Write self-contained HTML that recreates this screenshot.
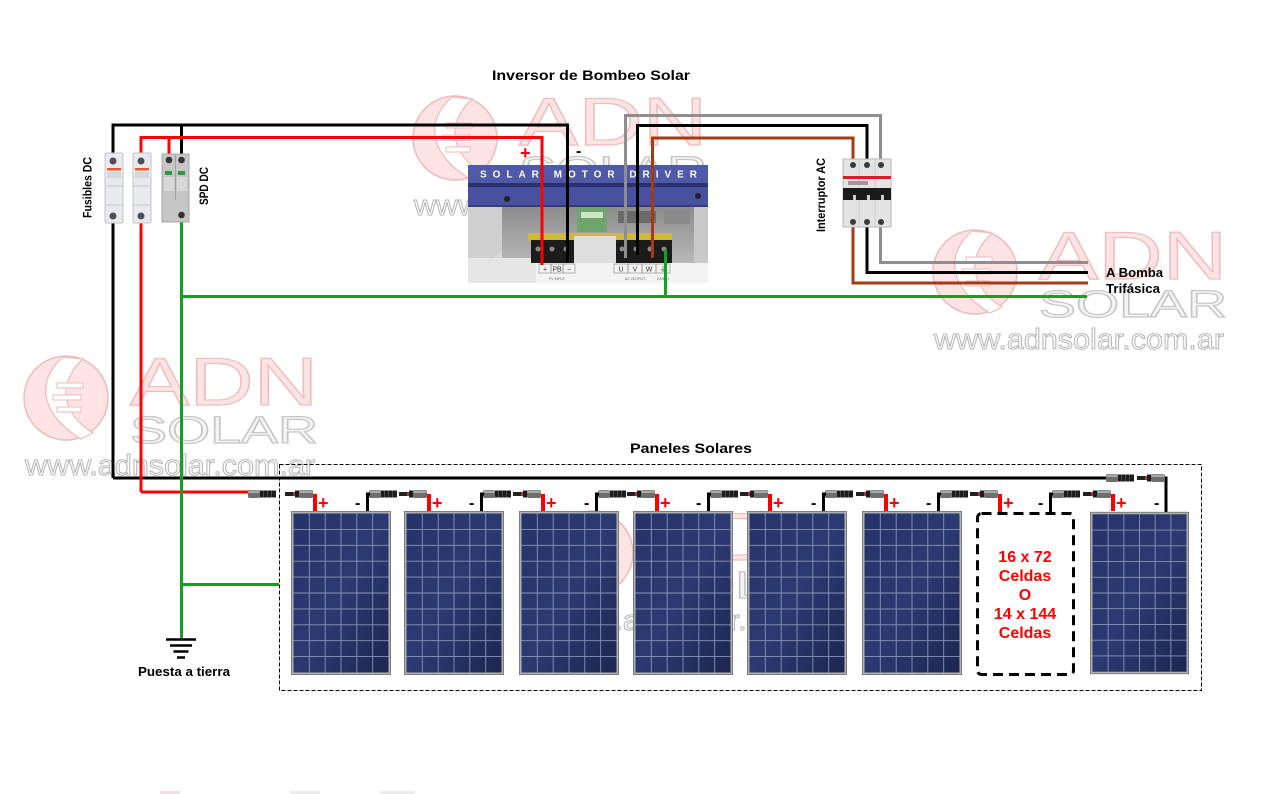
<!DOCTYPE html>
<html><head><meta charset="utf-8">
<style>
html,body{margin:0;padding:0;background:#fff;width:1285px;height:794px;overflow:hidden;}
svg{display:block;}
text{font-family:"Liberation Sans",Arial,sans-serif;}
</style></head>
<body>
<svg width="1285" height="794" viewBox="0 0 1285 794" xmlns="http://www.w3.org/2000/svg">
<defs>
  <linearGradient id="pvg" x1="0" y1="0" x2="1" y2="1">
    <stop offset="0" stop-color="#26336a"/>
    <stop offset="0.5" stop-color="#2b3a72"/>
    <stop offset="1" stop-color="#1d2650"/>
  </linearGradient>
  <linearGradient id="invg" x1="0" y1="0" x2="0" y2="1">
    <stop offset="0" stop-color="#8c8c8c"/>
    <stop offset="1" stop-color="#b8b8b8"/>
  </linearGradient>
  <symbol id="pv" viewBox="0 0 100 164">
    <rect x="0" y="0" width="100" height="164" fill="#7c7c7c"/>
    <rect x="1" y="1" width="98" height="162" fill="#b0b0b0"/>
    <rect x="2.5" y="2.5" width="95" height="159" fill="url(#pvg)"/>
    <g stroke="#9aa4c8" stroke-width="0.9" opacity="0.85">
      <line x1="18.3" y1="2.5" x2="18.3" y2="161.5"/>
      <line x1="34.2" y1="2.5" x2="34.2" y2="161.5"/>
      <line x1="50" y1="2.5" x2="50" y2="161.5"/>
      <line x1="65.8" y1="2.5" x2="65.8" y2="161.5"/>
      <line x1="81.7" y1="2.5" x2="81.7" y2="161.5"/>
      <line x1="2.5" y1="18.4" x2="97.5" y2="18.4"/>
      <line x1="2.5" y1="34.3" x2="97.5" y2="34.3"/>
      <line x1="2.5" y1="50.2" x2="97.5" y2="50.2"/>
      <line x1="2.5" y1="66.1" x2="97.5" y2="66.1"/>
      <line x1="2.5" y1="82" x2="97.5" y2="82"/>
      <line x1="2.5" y1="97.9" x2="97.5" y2="97.9"/>
      <line x1="2.5" y1="113.8" x2="97.5" y2="113.8"/>
      <line x1="2.5" y1="129.7" x2="97.5" y2="129.7"/>
      <line x1="2.5" y1="145.6" x2="97.5" y2="145.6"/>
    </g>
  </symbol>
  <g id="cf">
    <rect x="0" y="-4" width="12" height="8" rx="1.5" fill="#6e6e6e"/>
    <rect x="0.5" y="-3.5" width="11" height="2.5" fill="#a9a9a9"/>
    <rect x="12" y="-3.5" width="16" height="7" fill="#1c1c1c"/>
    <rect x="15" y="-3.5" width="1" height="7" fill="#4a4a4a"/>
    <rect x="19" y="-3.5" width="1" height="7" fill="#4a4a4a"/>
    <rect x="23" y="-3.5" width="1" height="7" fill="#4a4a4a"/>
  </g>
  <g id="cm">
    <rect x="0" y="-2" width="10" height="4" fill="#222"/>
    <rect x="8" y="-2" width="2" height="4" fill="#b33"/>
    <rect x="10" y="-3.5" width="4" height="7" fill="#1c1c1c"/>
    <rect x="14" y="-4" width="14" height="8" rx="1.5" fill="#6e6e6e"/>
    <rect x="14.5" y="-3.5" width="13" height="2.5" fill="#a9a9a9"/>
  </g>
  <symbol id="wm" viewBox="0 0 300 126">
    <circle cx="43" cy="45" r="42" fill="#fde3e3" stroke="#efbaba" stroke-width="1.5"/>
    <path d="M40 4 C 12 28, 18 62, 58 86 L 70 80 C 38 60, 34 30, 60 6 Z" fill="#fff" stroke="#efbaba" stroke-width="1.2"/>
    <rect x="34" y="30" width="26" height="5" fill="#fff" stroke="#efbaba" stroke-width="1"/>
    <rect x="30" y="42" width="28" height="5" fill="#fff" stroke="#efbaba" stroke-width="1"/>
    <rect x="34" y="54" width="24" height="5" fill="#fff" stroke="#efbaba" stroke-width="1"/>
    <text x="107" y="52" font-size="68" textLength="188" lengthAdjust="spacingAndGlyphs" fill="#fde4e4" stroke="#f0bcbc" stroke-width="1.2">ADN</text>
    <text x="107" y="90" font-size="38" textLength="188" lengthAdjust="spacingAndGlyphs" fill="#f4f4f4" stroke="#c6c6c6" stroke-width="1.2">SOLAR</text>
    <text x="2" y="122" font-size="29" textLength="290" lengthAdjust="spacingAndGlyphs" fill="#fff" stroke="#b6b6b6" stroke-width="1">www.adnsolar.com.ar</text>
  </symbol>
</defs>

<rect x="0" y="0" width="1285" height="794" fill="#fff"/>

<!-- watermarks -->
<use href="#wm" x="412" y="93" width="300" height="126"/>
<use href="#wm" x="932" y="227" width="300" height="126"/>
<use href="#wm" x="23" y="353" width="300" height="126"/>
<use href="#wm" x="548" y="508" width="300" height="126"/>
<rect x="160" y="791" width="20" height="3" fill="#f6dede"/>
<rect x="290" y="791" width="30" height="3" fill="#ececec"/>
<rect x="380" y="791" width="35" height="3" fill="#ececec"/>

<!-- outer dashed box -->
<rect x="279.5" y="464.5" width="922" height="226" fill="none" stroke="#000" stroke-width="1" stroke-dasharray="4 2"/>

<!-- panels -->
<use href="#pv" x="291" y="511" width="100" height="164"/>
<use href="#pv" x="404" y="511" width="100" height="164"/>
<use href="#pv" x="519" y="511" width="100" height="164"/>
<use href="#pv" x="633" y="511" width="100" height="164"/>
<use href="#pv" x="747" y="511" width="100" height="164"/>
<use href="#pv" x="862" y="511" width="100" height="164"/>
<use href="#pv" x="1090" y="511" width="99" height="164"/>

<!-- dashed placeholder panel -->
<rect x="977.5" y="513.5" width="96" height="161" rx="4" fill="#fff" stroke="#000" stroke-width="3" stroke-dasharray="10 6"/>
<g fill="#ff0000" font-weight="bold" font-size="16" text-anchor="middle">
  <text x="1025" y="562">16 x 72</text>
  <text x="1025" y="581">Celdas</text>
  <text x="1025" y="600">O</text>
  <text x="1025" y="619">14 x 144</text>
  <text x="1025" y="638">Celdas</text>
</g>

<!-- INVERTER image -->
<g>
  <rect x="468" y="165" width="240" height="118" fill="#c4c4c4"/>
  <rect x="468" y="207" width="34" height="76" fill="#d9d9d9"/>
  <polygon points="468,207 502,207 502,250 468,283" fill="#cfcfcf"/>
  <rect x="502" y="207" width="192" height="56" fill="url(#invg)"/>
  <rect x="694" y="207" width="14" height="76" fill="#c9c9c9"/>
  <rect x="468" y="258" width="70" height="25" fill="#e6e6e6"/>
  <rect x="468" y="165" width="240" height="18" fill="#4e59a8"/>
  <rect x="468" y="183" width="240" height="4" fill="#2a3170"/>
  <rect x="468" y="187" width="240" height="20" fill="#4851a0"/>
  <rect x="468" y="205" width="240" height="2" fill="#343b80"/>
  <text x="480" y="177.5" fill="#fff" font-size="10" font-weight="bold" textLength="220" lengthAdjust="spacing" letter-spacing="3">SOLAR MOTOR DRIVER</text>
  <circle cx="507" cy="199" r="3" fill="#222"/>
  <circle cx="698" cy="196" r="3" fill="#222"/>
  <rect x="577" y="208" width="30" height="24" fill="#6fa46b"/>
  <rect x="581" y="212" width="22" height="6" fill="#cfe3c8"/>
  <rect x="618" y="211" width="38" height="12" fill="#6a6a6a"/>
  <rect x="664" y="210" width="26" height="14" fill="#8a8a8a"/>
  <rect x="528" y="233" width="144" height="8" fill="#cdb83a"/>
  <rect x="531" y="240" width="44" height="23" fill="#1c1c1c"/>
  <rect x="574" y="236" width="42" height="27" fill="#dedede"/>
  <rect x="616" y="240" width="56" height="23" fill="#1c1c1c"/>
  <g fill="#8a8a8a">
    <circle cx="538" cy="249" r="2.5"/><circle cx="552" cy="249" r="2.5"/><circle cx="566" cy="249" r="2.5"/>
    <circle cx="622" cy="249" r="2.5"/><circle cx="636" cy="249" r="2.5"/><circle cx="650" cy="249" r="2.5"/><circle cx="664" cy="249" r="2.5"/>
  </g>
  <rect x="536" y="263" width="172" height="20" fill="#f3f3f3"/>
  <g stroke="#888" stroke-width="0.6" fill="none">
    <rect x="539" y="264" width="12" height="9"/><rect x="551" y="264" width="12" height="9"/><rect x="563" y="264" width="12" height="9"/>
    <rect x="614" y="264" width="14" height="9"/><rect x="628" y="264" width="14" height="9"/><rect x="642" y="264" width="14" height="9"/><rect x="656" y="264" width="14" height="9"/>
  </g>
  <g font-size="7" fill="#333" text-anchor="middle">
    <text x="545" y="271.5">+</text><text x="557" y="271.5">PB</text><text x="569" y="271.5">−</text>
    <text x="621" y="271.5">U</text><text x="635" y="271.5">V</text><text x="649" y="271.5">W</text><text x="663" y="271.5">⏚</text>
  </g>
  <g font-size="3.5" fill="#666" text-anchor="middle">
    <text x="557" y="280">PV INPUT</text><text x="635" y="280">AC OUTPUT</text><text x="663" y="280">EARTH</text>
  </g>
</g>

<!-- WIRES -->
<g fill="none" stroke-linejoin="miter">
  <path d="M113 478 V125 H567.5 V262" stroke="#000" stroke-width="3"/>
  <path d="M181.5 125 V155" stroke="#000" stroke-width="3"/>
  <path d="M113 478 H1107" stroke="#000" stroke-width="3"/>
  <path d="M1163 478 H1166 V512" stroke="#000" stroke-width="3"/>
  <path d="M141 492 V137.5 H542 V265" stroke="#ff0000" stroke-width="3"/>
  <path d="M169 137.5 V155" stroke="#ff0000" stroke-width="3"/>
  <path d="M141 492 H249" stroke="#ff0000" stroke-width="3"/>
  <path d="M181.5 222 V639" stroke="#14a024" stroke-width="3"/>
  <path d="M181.5 584.5 H279" stroke="#14a024" stroke-width="3"/>
  <path d="M181.5 296.5 H1087" stroke="#14a024" stroke-width="3"/>
  <path d="M665.5 296.5 V250" stroke="#14a024" stroke-width="3"/>
  <path d="M625.5 258 V115.5 H880.5 V160" stroke="#8e8e8e" stroke-width="3"/>
  <path d="M880.5 226 V262.5 H1088" stroke="#8e8e8e" stroke-width="3"/>
  <path d="M637.5 255 V125.5 H867 V160" stroke="#000" stroke-width="3"/>
  <path d="M867 226 V272.5 H1088" stroke="#000" stroke-width="3"/>
  <path d="M652.5 258 V138 H853 V160" stroke="#a63a12" stroke-width="3"/>
  <path d="M853 226 V283 H1088" stroke="#a63a12" stroke-width="3"/>
</g>

<!-- Inverter +/- labels -->
<text x="520" y="159" fill="#ff0000" font-size="18" font-weight="bold">+</text>
<text x="576" y="156" fill="#000" font-size="16" font-weight="bold">-</text>

<!-- Fuse holders -->
<g>
  <rect x="105" y="153" width="18" height="70" rx="1.5" fill="#e8eaee" stroke="#c2c4c8" stroke-width="1"/>
  <circle cx="113" cy="161" r="3.5" fill="#4a4f5a"/>
  <rect x="107" y="168" width="14" height="2.5" fill="#e05a2a"/>
  <rect x="107" y="172" width="14" height="6" fill="#d6d8dc"/>
  <line x1="106" y1="186" x2="122" y2="186" stroke="#c8c8c8"/>
  <line x1="106" y1="205" x2="122" y2="205" stroke="#c8c8c8"/>
  <circle cx="113" cy="216" r="3.5" fill="#4a4f5a"/>

  <rect x="133" y="153" width="18" height="70" rx="1.5" fill="#e8eaee" stroke="#c2c4c8" stroke-width="1"/>
  <circle cx="141" cy="161" r="3.5" fill="#4a4f5a"/>
  <rect x="135" y="168" width="14" height="2.5" fill="#e05a2a"/>
  <rect x="135" y="172" width="14" height="6" fill="#d6d8dc"/>
  <line x1="134" y1="186" x2="150" y2="186" stroke="#c8c8c8"/>
  <line x1="134" y1="205" x2="150" y2="205" stroke="#c8c8c8"/>
  <circle cx="141" cy="216" r="3.5" fill="#4a4f5a"/>

  <rect x="162" y="154" width="27" height="68" fill="#c6c6c6" stroke="#a8a8a8" stroke-width="1"/>
  <line x1="175.5" y1="155" x2="175.5" y2="200" stroke="#a0a0a0"/>
  <circle cx="169" cy="160" r="3.3" fill="#333"/>
  <circle cx="181.5" cy="160" r="3.3" fill="#333"/>
  <rect x="165" y="171" width="7" height="4" fill="#2a9a3a"/>
  <rect x="178" y="171" width="7" height="4" fill="#2a9a3a"/>
  <rect x="164" y="177" width="10" height="14" fill="#d8d8d8"/>
  <rect x="177" y="177" width="10" height="14" fill="#d8d8d8"/>
  <circle cx="181.5" cy="215" r="3.3" fill="#333"/>
</g>

<!-- AC breaker -->
<g>
  <rect x="843" y="159" width="48" height="68" fill="#e3e3e3" stroke="#b8b8b8" stroke-width="1"/>
  <line x1="859" y1="160" x2="859" y2="226" stroke="#cfcfcf"/>
  <line x1="875" y1="160" x2="875" y2="226" stroke="#cfcfcf"/>
  <circle cx="853" cy="165" r="3" fill="#3a3a3a"/>
  <circle cx="867" cy="165" r="3" fill="#3a3a3a"/>
  <circle cx="881" cy="165" r="3" fill="#3a3a3a"/>
  <rect x="843" y="176" width="48" height="3" fill="#d42020"/>
  <rect x="848" y="181" width="20" height="4" fill="#999"/>
  <rect x="843" y="188" width="48" height="12" fill="#1a1a1a"/>
  <rect x="853" y="195" width="3" height="5" fill="#ccc"/>
  <rect x="867" y="195" width="3" height="5" fill="#ccc"/>
  <rect x="881" y="195" width="3" height="5" fill="#ccc"/>
  <circle cx="853" cy="222" r="3" fill="#3a3a3a"/>
  <circle cx="867" cy="222" r="3" fill="#3a3a3a"/>
  <circle cx="881" cy="222" r="3" fill="#3a3a3a"/>
</g>

<!-- connectors & stubs -->
<g>
  <use href="#cf" x="248" y="494"/>
  <use href="#cm" x="285" y="494"/>
  <use href="#cf" x="1106" y="478"/>
  <use href="#cm" x="1137" y="478"/>
  <use href="#cf" x="369" y="494"/><use href="#cm" x="399" y="494"/>
  <use href="#cf" x="483" y="494"/><use href="#cm" x="513" y="494"/>
  <use href="#cf" x="598" y="494"/><use href="#cm" x="627" y="494"/>
  <use href="#cf" x="710" y="494"/><use href="#cm" x="740" y="494"/>
  <use href="#cf" x="825" y="494"/><use href="#cm" x="856" y="494"/>
  <use href="#cf" x="940" y="494"/><use href="#cm" x="970" y="494"/>
  <use href="#cf" x="1052" y="494"/><use href="#cm" x="1083" y="494"/>
</g>
<g stroke="#ff0000" stroke-width="4">
  <line x1="315" y1="494" x2="315" y2="511"/>
  <line x1="429" y1="494" x2="429" y2="511"/>
  <line x1="543" y1="494" x2="543" y2="511"/>
  <line x1="657" y1="494" x2="657" y2="511"/>
  <line x1="770" y1="494" x2="770" y2="511"/>
  <line x1="886" y1="494" x2="886" y2="511"/>
  <line x1="1000" y1="494" x2="1000" y2="512"/>
  <line x1="1113" y1="494" x2="1113" y2="511"/>
</g>
<g stroke="#000" stroke-width="3" fill="none">
  <path d="M370 494 H367.5 V511"/>
  <path d="M484 494 H481.5 V511"/>
  <path d="M599 494 H596.5 V511"/>
  <path d="M711 494 H708.5 V511"/>
  <path d="M826 494 H823.5 V511"/>
  <path d="M941 494 H938.5 V511"/>
  <path d="M1053 494 H1050.5 V512"/>
</g>
<g fill="#ff0000" font-size="18" font-weight="bold">
  <text x="318" y="509">+</text>
  <text x="432" y="509">+</text>
  <text x="546" y="509">+</text>
  <text x="660" y="509">+</text>
  <text x="773" y="509">+</text>
  <text x="889" y="509">+</text>
  <text x="1003" y="509">+</text>
  <text x="1116" y="509">+</text>
</g>
<g fill="#000" font-size="16" font-weight="bold">
  <text x="355" y="508">-</text>
  <text x="469" y="508">-</text>
  <text x="584" y="508">-</text>
  <text x="696" y="508">-</text>
  <text x="811" y="508">-</text>
  <text x="926" y="508">-</text>
  <text x="1038" y="508">-</text>
  <text x="1154" y="508">-</text>
</g>

<!-- ground symbol -->
<g stroke="#000" stroke-width="2.5">
  <line x1="166" y1="639.5" x2="196" y2="639.5"/>
  <line x1="170" y1="645.5" x2="192" y2="645.5"/>
  <line x1="173.5" y1="651.5" x2="188.5" y2="651.5"/>
  <line x1="177" y1="657.5" x2="185" y2="657.5"/>
</g>

<!-- labels -->
<g font-weight="bold" fill="#000">
  <text x="591" y="80" font-size="14" text-anchor="middle" textLength="198" lengthAdjust="spacingAndGlyphs">Inversor de Bombeo Solar</text>
  <text x="691" y="453" font-size="14" text-anchor="middle" textLength="122" lengthAdjust="spacingAndGlyphs">Paneles Solares</text>
  <text x="184" y="676" font-size="13" text-anchor="middle" textLength="92" lengthAdjust="spacingAndGlyphs">Puesta a tierra</text>
  <text x="1106" y="277" font-size="12.5" textLength="57" lengthAdjust="spacingAndGlyphs">A Bomba</text>
  <text x="1106" y="293" font-size="12.5" textLength="54" lengthAdjust="spacingAndGlyphs">Trifásica</text>
  <text transform="translate(91.5,187.5) rotate(-90)" font-size="12" text-anchor="middle" textLength="61" lengthAdjust="spacingAndGlyphs">Fusibles DC</text>
  <text transform="translate(208,186) rotate(-90)" font-size="12" text-anchor="middle" textLength="38" lengthAdjust="spacingAndGlyphs">SPD DC</text>
  <text transform="translate(825,195) rotate(-90)" font-size="12" text-anchor="middle" textLength="74" lengthAdjust="spacingAndGlyphs">Interruptor AC</text>
</g>
</svg>
</body></html>
